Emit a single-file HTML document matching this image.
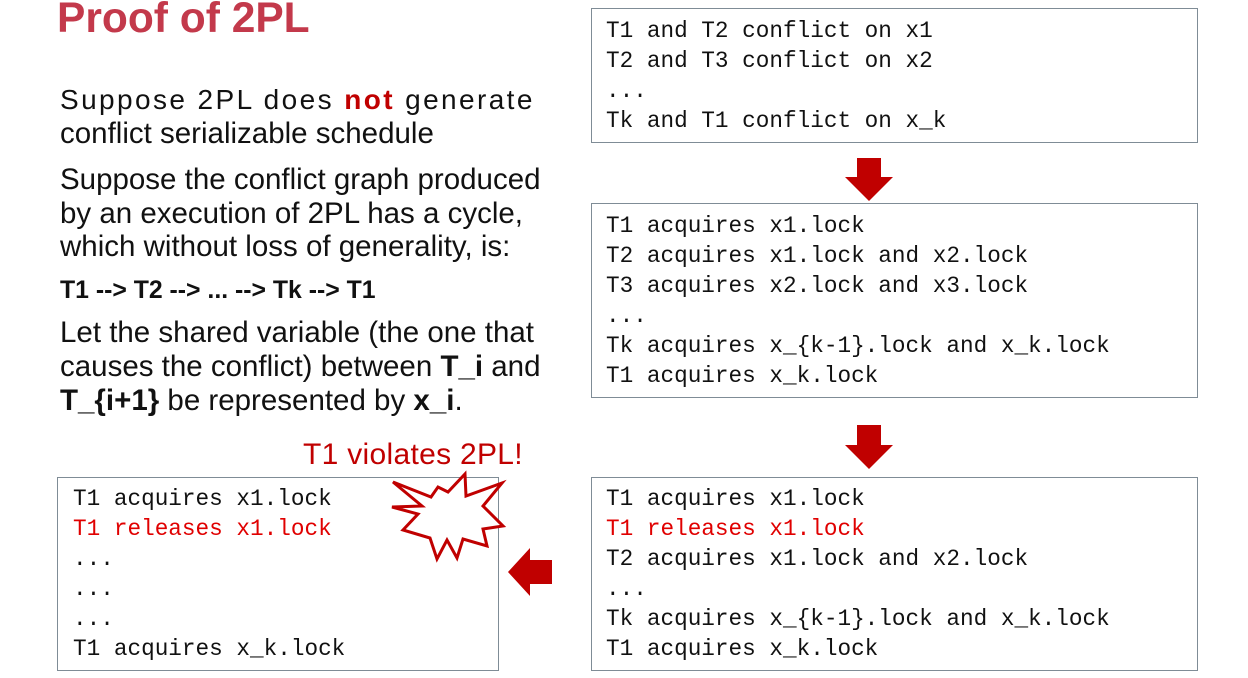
<!DOCTYPE html>
<html><head><meta charset="utf-8"><style>
body{margin:0;width:1248px;height:678px;background:#fff;position:relative;overflow:hidden;font-family:"Liberation Sans",Arial,sans-serif}
.t{position:absolute;white-space:nowrap}
.box{position:absolute;border:1.5px solid #7f8c96;box-sizing:border-box;background:#fff}
.m{position:absolute;font-family:"Liberation Mono","DejaVu Sans Mono",monospace;font-size:22.7px;line-height:30px;white-space:pre;color:#111}
.r{color:#e00000}
.p{font-size:29.5px;color:#111;line-height:34px}
</style></head><body>
<div class="t" style="left:57px;top:-5px;font-size:42.5px;font-weight:bold;color:#c3394b">Proof of 2PL</div>
<div class="t p" style="left:60px;top:83px;letter-spacing:2.4px;font-size:28px">Suppose 2PL does <b style="color:#c00000">not</b> generate</div>
<div class="t p" style="left:60px;top:117px">conflict serializable schedule</div>
<div class="t p" style="left:60px;top:163px">Suppose the conflict graph produced</div>
<div class="t p" style="left:60px;top:197px">by an execution of 2PL has a cycle,</div>
<div class="t p" style="left:60px;top:230px">which without loss of generality, is:</div>
<div class="t" style="left:60px;top:277px;font-size:24.8px;font-weight:bold;color:#111">T1 --&gt; T2 --&gt; ... --&gt; Tk --&gt; T1</div>
<div class="t p" style="left:60px;top:316px">Let the shared variable (the one that</div>
<div class="t p" style="left:60px;top:350px">causes the conflict) between <b>T_i</b> and</div>
<div class="t p" style="left:60px;top:384px"><b>T_{i+1}</b> be represented by <b>x_i</b>.</div>

<div class="box" style="left:591px;top:8px;width:607px;height:135px"></div>
<div class="m" style="left:606px;top:16px">T1 and T2 conflict on x1
T2 and T3 conflict on x2
...
Tk and T1 conflict on x_k</div>

<div class="box" style="left:591px;top:203px;width:607px;height:195px"></div>
<div class="m" style="left:606px;top:211px">T1 acquires x1.lock
T2 acquires x1.lock and x2.lock
T3 acquires x2.lock and x3.lock
...
Tk acquires x_{k-1}.lock and x_k.lock
T1 acquires x_k.lock</div>

<div class="box" style="left:591px;top:477px;width:607px;height:194px"></div>
<div class="m" style="left:606px;top:484px">T1 acquires x1.lock
<span class="r">T1 releases x1.lock</span>
T2 acquires x1.lock and x2.lock
...
Tk acquires x_{k-1}.lock and x_k.lock
T1 acquires x_k.lock</div>

<div class="box" style="left:57px;top:477px;width:442px;height:194px"></div>
<div class="m" style="left:73px;top:484px">T1 acquires x1.lock
<span class="r">T1 releases x1.lock</span>
...
...
...
T1 acquires x_k.lock</div>

<div class="t" style="left:303px;top:438px;font-size:30px;color:#c00000;letter-spacing:0.3px">T1 violates 2PL!</div>

<svg style="position:absolute;left:0;top:0" width="1248" height="678">
<polygon points="857,158 881,158 881,177 893,177 869,201 845,177 857,177" fill="#c00000"/>
<polygon points="857,425 881,425 881,445 893,445 869,469 845,445 857,445" fill="#c00000"/>
<polygon points="552,560 552,584 530,584 530,596 508,572 530,548 530,560" fill="#c00000"/>
<polygon points="393,482 431,497 438,487 448,492 465,474 466,496 502,483 483,506 503,526 483,529 487,546 463,539 457,558 447,540 437,559 430,538 403,530 418,514 392,507 422,506" fill="#fff" stroke="#c00000" stroke-width="3" stroke-linejoin="miter"/>
</svg>
</body></html>
